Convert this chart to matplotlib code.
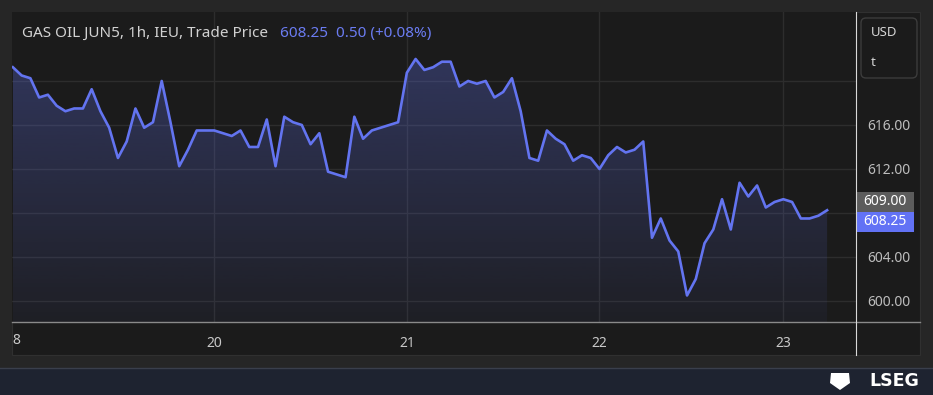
import numpy as np
import matplotlib
matplotlib.use("Agg")
import matplotlib.pyplot as plt
import matplotlib.colors as mcolors
import matplotlib.transforms as mtransforms
from matplotlib.patches import Rectangle, FancyBboxPatch, Polygon
from matplotlib.lines import Line2D

W, H = 933, 395

# hourly trade prices
prices = [621.25, 620.50, 620.25, 618.50, 618.75, 617.75, 617.25, 617.50, 617.50, 619.25,
          617.25, 615.75, 613.00, 614.50, 617.50, 615.75, 616.25, 620.00, 616.25, 612.25,
          613.75, 615.50, 615.50, 615.50, 615.25, 615.00, 615.50, 614.00, 614.00, 616.50,
          612.25, 616.75, 616.25, 616.00, 614.25, 615.25, 611.75, 611.50, 611.25, 616.75,
          614.75, 615.50, 615.75, 616.00, 616.25, 620.75, 622.00, 621.00, 621.25, 621.75,
          621.75, 619.50, 620.00, 619.75, 620.00, 618.50, 619.00, 620.25, 617.25, 613.00,
          612.75, 615.50, 614.75, 614.25, 612.75, 613.25, 613.00, 612.00, 613.25, 614.00,
          613.50, 613.75, 614.50, 605.75, 607.50, 605.50, 604.50, 600.50, 602.00, 605.25,
          606.50, 609.25, 606.50, 610.75, 609.50, 610.50, 608.50, 609.00, 609.25, 609.00,
          607.50, 607.50, 607.75, 608.25]
day_ticks = [23, 45, 67, 88]
day_labels = ["20", "21", "22", "23"]
price_ticks = [600, 604, 612, 616]
grid_levels = [600, 604, 608, 612, 616, 620]
ref_price = 609.00
last_price = 608.25
title = "GAS OIL JUN5, 1h, IEU, Trade Price"
quote = "608.25  0.50 (+0.08%)"

OUTER = "#262626"
PANEL = "#1b1b1b"
GRID = "#2d2d2d"
LINE = "#6374f0"
TEXT = "#bdbdbd"

plt.rcParams["font.family"] = ["Noto Sans", "DejaVu Sans"]


def fx(px):
    return px / W


def fy(py):
    return 1 - py / H


fig = plt.figure(figsize=(W / 100, H / 100), dpi=100, facecolor=OUTER)

# chart panel and bottom brand band
fig.patches.append(Rectangle((fx(12), fy(355)), fx(920) - fx(12), fy(12) - fy(355),
                             transform=fig.transFigure, facecolor=PANEL,
                             edgecolor="#303030", lw=0.8, zorder=-2))
fig.patches.append(Rectangle((0, 0), 1, fy(368), transform=fig.transFigure,
                             facecolor="#1e2330", edgecolor="none", zorder=-2))
fig.add_artist(Line2D([0, 1], [fy(368), fy(368)], color="#3a3f4c", lw=1))

ax = fig.add_axes([fx(12), fy(322), fx(856) - fx(12), fy(12) - fy(322)])
ax.set_facecolor(PANEL)

x = np.arange(len(prices))
y = np.array(prices)
ylo, yhi = 598.09, 626.27

for lv in grid_levels:
    ax.axhline(lv, color=GRID, lw=1, zorder=0)
for d in day_ticks:
    ax.axvline(d, color=GRID, lw=1, zorder=0)

# gradient area under the line
area = ax.fill_between(x, y, ylo, color="none", lw=0)
rgba = np.zeros((256, 1, 4))
rgba[..., :3] = mcolors.to_rgb(LINE)
rgba[..., 3] = np.linspace(0.30, 0.05, 256)[:, None]
img = ax.imshow(rgba, extent=[x[0], x[-1], ylo, y.max()], aspect="auto",
                origin="upper", zorder=1)
img.set_clip_path(area.get_paths()[0], transform=ax.transData)

ax.plot(x, y, color=LINE, lw=1.9, zorder=3)

ax.set_xlim(-0.1, 96.3)
ax.set_ylim(ylo, yhi)
for s in ax.spines.values():
    s.set_visible(False)

ax.set_xticks(day_ticks, labels=day_labels)
ax.yaxis.tick_right()
ax.set_yticks(price_ticks, labels=[f"{v:.2f}" for v in price_ticks])
ax.tick_params(axis="x", length=0, pad=10, colors="#c8c8c8", labelsize=10)
ax.tick_params(axis="y", length=0, pad=8, colors=TEXT, labelsize=10)
for lab in ax.get_xticklabels():
    lab.set_fontweight("semibold")
fig.text(fx(16), fy(340), "8", color="#c8c8c8", fontsize=10, fontweight="semibold",
         ha="center", va="center")

# axis lines
fig.add_artist(Line2D([fx(12), fx(920)], [fy(322), fy(322)], color="#8a8a8a", lw=1))
fig.add_artist(Line2D([fx(856), fx(856)], [fy(12), fy(355)], color="#d9d9d9", lw=0.8))

# price labels on the scale
bt = mtransforms.blended_transform_factory(fig.transFigure, ax.transData)
bh = 20 / 11
fig.patches.append(Rectangle((fx(856), ref_price - bh / 2), fx(914) - fx(856), bh,
                             transform=bt, facecolor="#5c5c5c", edgecolor="none"))
fig.text(fx(885), ref_price, f"{ref_price:.2f}", transform=bt, color="white",
         fontsize=10, ha="center", va="center")
fig.patches.append(Rectangle((fx(856), ref_price - 1.5 * bh), fx(914) - fx(856), bh,
                             transform=bt, facecolor="#6272f5", edgecolor="none"))
fig.text(fx(885), ref_price - bh, f"{last_price:.2f}", transform=bt, color="white",
         fontsize=10, ha="center", va="center")

# currency / unit box
fig.patches.append(FancyBboxPatch((8.61, 3.17), 0.56, 0.60,
                                  boxstyle="round,pad=0,rounding_size=0.05",
                                  transform=fig.dpi_scale_trans, facecolor=PANEL,
                                  edgecolor="#3c3c3c", lw=1))
fig.text(fx(871), fy(33), "USD", color="#d6d6d6", fontsize=9.5, va="center")
fig.text(fx(871), fy(63), "t", color="#d6d6d6", fontsize=9.5, va="center")

# title
fig.text(fx(22), fy(33), title, color="#d2d2d2", fontsize=11, va="center")
fig.text(fx(280), fy(33), quote, color="#6b7cf2", fontsize=11, va="center")

# brand
fig.patches.append(Polygon([[fx(831), fy(373)], [fx(849), fy(373)], [fx(850), fy(383)],
                            [fx(840), fy(390)], [fx(830), fy(383)]],
                           closed=True, transform=fig.transFigure,
                           facecolor="white", edgecolor="none"))
fig.text(fx(919), fy(381), "LSEG", color="white", fontsize=12.5, fontweight="bold",
         family="DejaVu Sans", ha="right", va="center")

fig.savefig("out.png", dpi=100, facecolor=fig.get_facecolor())
